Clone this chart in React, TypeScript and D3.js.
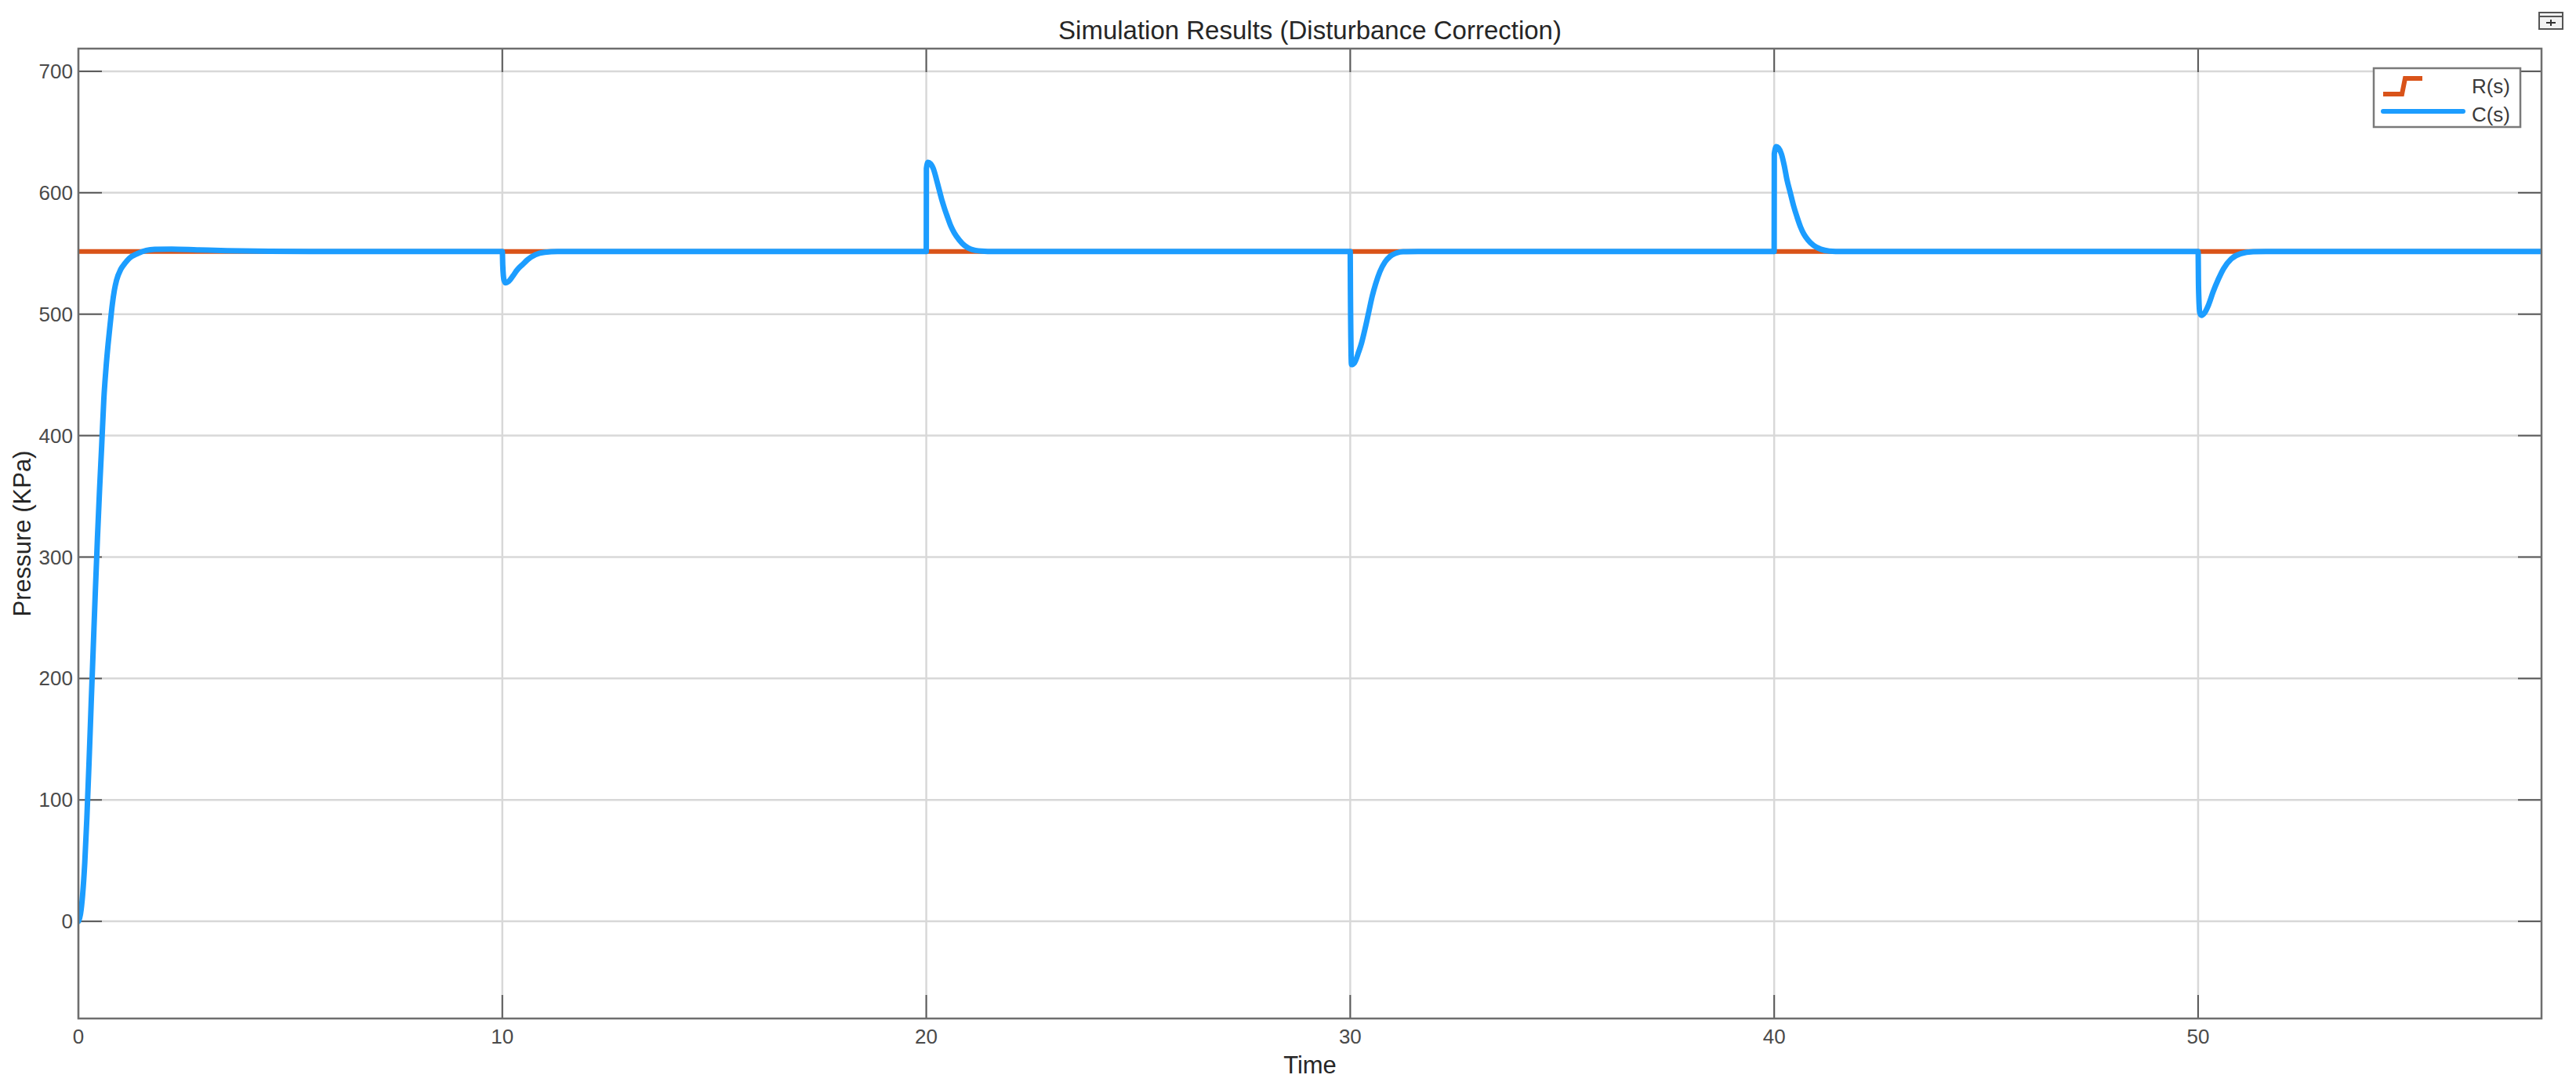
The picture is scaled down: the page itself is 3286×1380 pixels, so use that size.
import React from "react";
import * as d3 from "d3";

// ---------- data ----------
const xTicks = [0, 10, 20, 30, 40, 50];
const yTicks = [0, 100, 200, 300, 400, 500, 600, 700];
const setpoint = 551.6;
const refTimes = [0, 58.1];
const refValues = [setpoint, setpoint];

const startupT = [0, 0.05, 0.1, 0.15, 0.2, 0.25, 0.3, 0.35, 0.4, 0.45, 0.5, 0.55, 0.6, 0.65, 0.7, 0.75, 0.8, 0.85, 0.9, 1.0, 1.1, 1.2, 1.4, 1.6, 1.8, 2.2, 2.8, 3.5, 4.5, 6];
const startupV = [0, 6, 22, 48, 85, 130, 178, 225, 272, 316, 356, 392, 430, 455, 475, 492, 508, 520, 528, 537, 542, 546, 550, 552.5, 553.4, 553.6, 553, 552.3, 551.8, 551.6];

const dist10T = [10, 10.01, 10.04, 10.08, 10.15, 10.25, 10.35, 10.48, 10.6, 10.78, 11.0, 11.3];
const dist10V = [551.6, 540, 528, 525.8, 527, 531.5, 536.5, 541, 545, 549, 551, 551.6];

const dist20T = [20, 20.003, 20.04, 20.1, 20.17, 20.24, 20.3, 20.36, 20.43, 20.5, 20.58, 20.66, 20.78, 20.9, 21.05, 21.3, 21.6];
const dist20V = [551.6, 620, 625, 624, 619.5, 611, 603, 595, 587, 580, 572.5, 567, 561, 556.6, 553.6, 552, 551.6];

const dist30T = [30, 30.005, 30.03, 30.1, 30.2, 30.27, 30.35, 30.42, 30.52, 30.6, 30.7, 30.82, 30.94, 31.1, 31.25, 31.6];
const dist30V = [551.6, 520, 458.5, 460, 469, 476.6, 488, 499, 515, 525, 535, 543, 547.6, 550.5, 551.5, 551.6];

const dist40T = [40, 40.003, 40.05, 40.1, 40.17, 40.24, 40.3, 40.38, 40.46, 40.54, 40.62, 40.7, 40.8, 40.93, 41.1, 41.3, 41.6];
const dist40V = [551.6, 632, 638, 637, 632, 622, 611, 600, 589, 580, 572, 566, 561, 556.6, 553.5, 552, 551.6];

const dist50T = [50, 50.01, 50.04, 50.08, 50.15, 50.25, 50.35, 50.48, 50.6, 50.78, 51.0, 51.3, 51.6];
const dist50V = [551.6, 522, 501, 499, 501, 508, 518, 529, 537.5, 545.5, 549.8, 551.4, 551.6];

const endT = [58.1];
const endV = [551.6];

// ---------- layout ----------
const W = 3286;
const H = 1380;
const L = 100, R = 3242, T = 62, B = 1299;
const FONT = "'Liberation Sans', Arial, Helvetica, sans-serif";
const BLUE = "#1c9dff";
const ORANGE = "#d95319";

export default function App() {
  const x = d3.scaleLinear().domain([0, 58.1]).range([L, R]);
  const y = d3.scaleLinear().domain([-80, 718.7]).range([B, T]);

  const pairs = (ts: number[], vs: number[]) => ts.map((t, i) => [t, vs[i]] as [number, number]);
  const cData = [
    ...pairs(startupT, startupV),
    ...pairs(dist10T, dist10V),
    ...pairs(dist20T, dist20V),
    ...pairs(dist30T, dist30V),
    ...pairs(dist40T, dist40V),
    ...pairs(dist50T, dist50V),
    ...pairs(endT, endV),
  ];
  const rData = pairs(refTimes, refValues);

  const line = d3
    .line<[number, number]>()
    .x((d) => x(d[0]))
    .y((d) => y(d[1]))
    .curve(d3.curveMonotoneX);
  const lineLin = d3
    .line<[number, number]>()
    .x((d) => x(d[0]))
    .y((d) => y(d[1]));

  const tickLen = 30;

  return (
    <svg
      width={W}
      height={H}
      style={{ position: "absolute", left: 0, top: 0, background: "#fff" }}
      fontFamily={FONT}
    >
      <defs>
        <clipPath id="plotclip">
          <rect x={L} y={T} width={R - L} height={B - T} />
        </clipPath>
      </defs>
      <rect x={0} y={0} width={W} height={H} fill="#fff" />

      {/* grid */}
      <g stroke="#d8d8d8" strokeWidth={2.5}>
        {xTicks.map((t) => (
          <line key={"gx" + t} x1={x(t)} x2={x(t)} y1={T} y2={B} />
        ))}
        {yTicks.map((t) => (
          <line key={"gy" + t} x1={L} x2={R} y1={y(t)} y2={y(t)} />
        ))}
      </g>

      {/* ticks */}
      <g stroke="#5a5a5a" strokeWidth={2}>
        {xTicks.map((t) => (
          <g key={"tx" + t}>
            <line x1={x(t)} x2={x(t)} y1={B} y2={B - tickLen} />
            <line x1={x(t)} x2={x(t)} y1={T} y2={T + tickLen} />
          </g>
        ))}
        {yTicks.map((t) => (
          <g key={"ty" + t}>
            <line x1={L} x2={L + tickLen} y1={y(t)} y2={y(t)} />
            <line x1={R} x2={R - tickLen} y1={y(t)} y2={y(t)} />
          </g>
        ))}
      </g>

      {/* series */}
      <g clipPath="url(#plotclip)" fill="none" strokeLinejoin="round" strokeLinecap="round">
        <path d={lineLin(rData) || ""} stroke={ORANGE} strokeWidth={6} />
        <path d={line(cData) || ""} stroke={BLUE} strokeWidth={7} />
      </g>

      {/* frame */}
      <rect x={L} y={T} width={R - L} height={B - T} fill="none" stroke="#6e6e6e" strokeWidth={2.5} />

      {/* tick labels */}
      <g fill="#4a4a4a" fontSize={26}>
        {xTicks.map((t) => (
          <text key={"lx" + t} x={x(t)} y={1331} textAnchor="middle">
            {t}
          </text>
        ))}
        {yTicks.map((t) => (
          <text key={"ly" + t} x={L - 7} y={y(t)} dy="0.35em" textAnchor="end">
            {t}
          </text>
        ))}
      </g>

      {/* axis labels & title */}
      <text x={(L + R) / 2} y={1369} textAnchor="middle" fontSize={31} fill="#262626">
        Time
      </text>
      <text
        transform={`translate(39,${(T + B) / 2}) rotate(-90)`}
        textAnchor="middle"
        fontSize={31}
        fill="#262626"
      >
        Pressure (KPa)
      </text>
      <text x={(L + R) / 2} y={50} textAnchor="middle" fontSize={33} fill="#262626">
        Simulation Results (Disturbance Correction)
      </text>

      {/* legend */}
      <g>
        <rect x={3028} y={87} width={187} height={75} fill="#fff" stroke="#7a7a7a" strokeWidth={2.5} />
        <path d="M3040,120 L3064,120 L3068,100 L3090,100" fill="none" stroke={ORANGE} strokeWidth={6} />
        <line x1={3040} x2={3142} y1={142} y2={142} stroke={BLUE} strokeWidth={6} strokeLinecap="round" />
        <text x={3202} y={110} dy="0.35em" textAnchor="end" fontSize={26} fill="#3a3a3a">
          R(s)
        </text>
        <text x={3202} y={146} dy="0.35em" textAnchor="end" fontSize={26} fill="#3a3a3a">
          C(s)
        </text>
      </g>

      {/* corner icon */}
      <g>
        <rect x={3239} y={16} width={30} height={21} fill="#f2f2f2" stroke="#555" strokeWidth={2} />
        <line x1={3239} y1={21} x2={3269} y2={21} stroke="#555" strokeWidth={2} />
        <path d="M3248,29 L3260,29 M3254,25 L3254,33" stroke="#333" strokeWidth={2} />
      </g>
    </svg>
  );
}
